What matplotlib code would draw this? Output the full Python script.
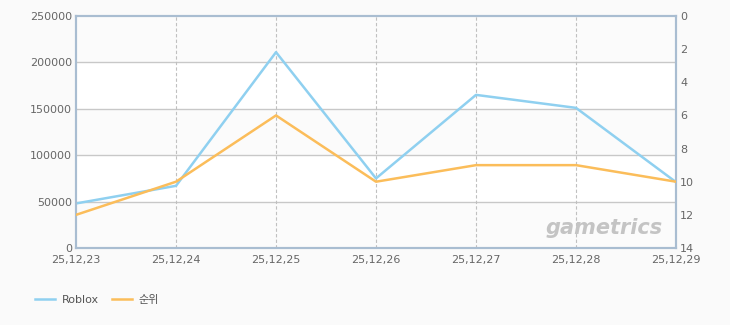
import matplotlib
matplotlib.use("Agg")
import matplotlib.pyplot as plt
import numpy as np

plt.rcParams['font.family'] = ['DejaVu Sans', 'Noto Sans CJK KR']

dates = ["25,12,23", "25,12,24", "25,12,25", "25,12,26", "25,12,27", "25,12,28", "25,12,29"]
roblox = [48000, 67000, 211000, 75000, 165000, 151000, 71000]
rank = [12, 10, 6, 10, 9, 9, 10]
left_ticks = [0, 50000, 100000, 150000, 200000, 250000]
right_ticks = [0, 2, 4, 6, 8, 10, 12, 14]

W, H = 730, 325
fig = plt.figure(figsize=(W / 100, H / 100), dpi=100, facecolor="#fafafa")
L, R, T, B = 76, 676, 16, 248
ax = fig.add_axes([L / W, 1 - B / H, (R - L) / W, (B - T) / H])
ax.set_facecolor("white")
x = np.arange(len(dates))
ax.set_xlim(0, len(dates) - 1)
ax.set_ylim(0, 250000)

# alternating bands
for i in range(0, 5):
    if i % 2 == 0:
        ax.axhspan(i * 50000, (i + 1) * 50000, color="#fbfbfb", zorder=0, lw=0)

for v in left_ticks[1:-1]:
    ax.axhline(v, color="#c8c8c8", lw=1, zorder=1)
for xi in x[1:-1]:
    ax.axvline(xi, color="#c0c0c0", lw=0.8, ls=(0, (3, 2)), zorder=1)

ax.text(0.88, 0.085, "gametrics", transform=ax.transAxes, ha="center", va="center",
        fontsize=15, fontweight="bold", style="italic", color="#c4c4c4", zorder=1)

ax2 = ax.twinx()
ax2.set_ylim(14, 0)

l1, = ax.plot(x, roblox, color="#8fd0f0", lw=1.8, zorder=3, label="Roblox")
l2, = ax2.plot(x, rank, color="#fbbd5a", lw=1.8, zorder=3, label="순위")

ax.set_yticks(left_ticks)
ax.set_yticklabels([str(v) for v in left_ticks])
ax2.set_yticks(right_ticks)
ax2.set_yticklabels([str(v) for v in right_ticks])
ax.set_xticks(x)
ax.set_xticklabels(dates)

for a in (ax, ax2):
    a.tick_params(length=0, labelsize=8, colors="#666666", pad=3)
    for s in a.spines.values():
        s.set_color("#a9bdd1")
        s.set_linewidth(1.5)
ax.tick_params(axis="x", pad=5)

fig.legend(handles=[l1, l2], labels=["Roblox", "순위"], loc="center left",
           bbox_to_anchor=(25 / W, 1 - 300 / H), ncol=2, frameon=False,
           fontsize=8, handlelength=1.8, columnspacing=1.2, handletextpad=0.6,
           labelcolor="#555555")

fig.savefig("out.png", dpi=100, facecolor=fig.get_facecolor())
